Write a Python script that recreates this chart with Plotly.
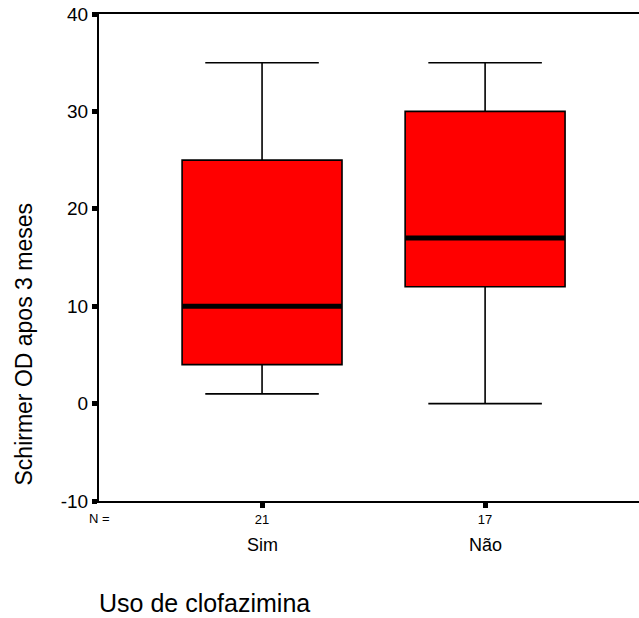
import plotly.graph_objects as go

# Group summary statistics (Schirmer test, right eye, 3 months)
groups = ["Sim", "Não"]
n_counts = ["21", "17"]
lower_whisker = [1, 0]
q1_values = [4, 12]
medians = [10, 17]
q3_values = [25, 30]
upper_whisker = [35, 35]

y_tick_values = [-10, 0, 10, 20, 30, 40]
y_tick_labels = ["-10", "0", "10", "20", "30", "40"]

positions = list(range(len(groups)))
box_width = 0.717
FONT = "Arial, Liberation Sans, sans-serif"

fig = go.Figure()

fig.add_trace(go.Box(
    x=positions,
    q1=q1_values,
    median=medians,
    q3=q3_values,
    lowerfence=lower_whisker,
    upperfence=upper_whisker,
    width=box_width,
    whiskerwidth=0.71,
    fillcolor="#FF0000",
    line=dict(color="black", width=1.6),
    boxpoints=False,
    hoverinfo="skip",
    showlegend=False,
))

# Heavy median bars drawn over each box
for pos, med in zip(positions, medians):
    fig.add_trace(go.Scatter(
        x=[pos - box_width / 2, pos + box_width / 2],
        y=[med, med],
        mode="lines",
        line=dict(color="black", width=5),
        hoverinfo="skip",
        showlegend=False,
    ))

annotations = []
for pos, name in zip(positions, groups):
    annotations.append(dict(
        x=pos, y=0, xref="x", yref="paper",
        text=name, showarrow=False,
        xanchor="center", yanchor="middle", yshift=-44,
        font=dict(family=FONT, size=18, color="black"),
    ))

annotations.append(dict(
    x=0, y=0, xref="paper", yref="paper",
    text="N =", showarrow=False,
    xanchor="center", yanchor="middle", xshift=0, yshift=-17,
    font=dict(family=FONT, size=13, color="black"),
))

annotations.append(dict(
    x=0, y=0, xref="paper", yref="paper",
    text="Schirmer OD apos 3 meses", showarrow=False, textangle=-90,
    xanchor="center", yanchor="middle", xshift=-76, yshift=(501 - 344.5),
    font=dict(family=FONT, size=23, color="black"),
))

annotations.append(dict(
    x=0, y=0, xref="paper", yref="paper",
    text="Uso de clofazimina", showarrow=False,
    xanchor="left", yanchor="middle", xshift=-2, yshift=-(603 - 501),
    font=dict(family=FONT, size=25, color="black"),
))

fig.update_layout(
    width=639,
    height=618,
    margin=dict(l=99, r=0, t=14, b=117, pad=0),
    paper_bgcolor="white",
    plot_bgcolor="white",
    font=dict(family=FONT, color="black"),
    annotations=annotations,
    xaxis=dict(
        range=[-0.731, 1.690],
        tickvals=positions,
        ticktext=n_counts,
        tickfont=dict(size=13, family=FONT),
        ticks="outside", ticklen=5, tickwidth=5, tickcolor="black",
        showline=True, linecolor="black", linewidth=2, mirror=True,
        showgrid=False, zeroline=False,
    ),
    yaxis=dict(
        range=[-10, 40],
        tickvals=y_tick_values,
        ticktext=y_tick_labels,
        tickfont=dict(size=19, family=FONT),
        ticks="outside", ticklen=5, tickwidth=5, tickcolor="black",
        showline=True, linecolor="black", linewidth=2,
        showgrid=False, zeroline=False,
    ),
)

fig.write_html("out.html")
